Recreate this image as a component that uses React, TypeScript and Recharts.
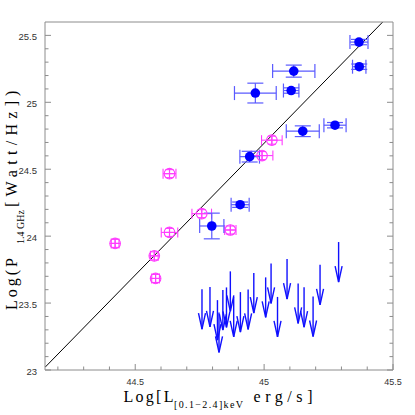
import { ScatterChart, Scatter, XAxis, YAxis, ErrorBar, ReferenceLine } from 'recharts'

// filled blue: detected sources
const detLx = [45.368, 45.369, 45.115, 44.966, 45.105, 45.15, 45.275, 44.944, 44.907, 44.797]
const detLr = [25.45, 25.266, 25.233, 25.069, 25.088, 24.784, 24.829, 24.594, 24.235, 24.076]
const detErrLx = [0.035, 0.026, 0.082, 0.081, 0.03, 0.064, 0.043, 0.038, 0.035, 0.047]
const detErrLr = [0.02, 0.02, 0.045, 0.074, 0.02, 0.04, 0.02, 0.04, 0.02, 0.096]

// open magenta
const magLx = [45.03, 44.992, 44.633, 44.758, 44.869, 44.633, 44.422, 44.574, 44.579]
const magLr = [24.717, 24.602, 24.467, 24.168, 24.046, 24.028, 23.946, 23.853, 23.684]
const magErrLx = [0.04, 0.042, 0.025, 0.038, 0.022, 0.032, 0.015, 0.015, 0.015]
const magErrLr = [0.03, 0.03, 0.03, 0.03, 0.03, 0.03, 0.03, 0.03, 0.03]

// upper limits (arrows)
const limLx = [44.759, 44.79, 44.819, 44.825, 44.84, 44.854, 44.869, 44.882, 44.908, 44.938,
  44.96, 45.006, 45.027, 45.052, 45.089, 45.132, 45.155, 45.19, 45.217, 45.289]
const limLr = [23.604, 23.621, 23.522, 23.43, 23.597, 23.617, 23.737, 23.546, 23.582, 23.602,
  23.724, 23.692, 23.796, 23.546, 23.829, 23.647, 23.619, 23.549, 23.786, 23.956]

// best fit line end points
const fitLx = [44.15, 45.46]
const fitLr = [23.02, 25.6]

const xTicks = [44.2, 44.3, 44.4, 44.5, 44.6, 44.7, 44.8, 44.9, 45, 45.1, 45.2, 45.3, 45.4, 45.5]
const yTicks = [23, 23.1, 23.2, 23.3, 23.4, 23.5, 23.6, 23.7, 23.8, 23.9, 24, 24.1, 24.2, 24.3, 24.4,
  24.5, 24.6, 24.7, 24.8, 24.9, 25, 25.1, 25.2, 25.3, 25.4, 25.5]

const detData = detLx.map((x, i) => ({ x, y: detLr[i], ex: detErrLx[i], ey: detErrLr[i] }))
const magData = magLx.map((x, i) => ({ x, y: magLr[i], ex: magErrLx[i], ey: magErrLr[i] }))
const limData = limLx.map((x, i) => ({ x, y: limLr[i] }))

const FRAME = '#8c8c8c'
const BLUE = '#0000ff'
const MAGENTA = '#ff3cff'

const isMajor = (v: number) => Math.abs(v * 2 - Math.round(v * 2)) < 1e-6
const tickLen = (v: number) => (isMajor(v) ? 6 : 3.5)

const BottomTick = ({ x, y, payload }: any) => (
  <g>
    <line x1={x} y1={y} x2={x} y2={y - tickLen(payload.value)} stroke={FRAME} />
    {isMajor(payload.value) && (
      <text x={x} y={y + 15} textAnchor="middle" fontSize={9} fontFamily="Liberation Sans" fill="#333">
        {String(payload.value)}
      </text>
    )}
  </g>
)

const TopTick = ({ x, y, payload }: any) => (
  <line x1={x} y1={y} x2={x} y2={y + tickLen(payload.value)} stroke={FRAME} />
)

const LeftTick = ({ x, y, payload }: any) => (
  <g>
    <line x1={x} y1={y} x2={x + tickLen(payload.value)} y2={y} stroke={FRAME} />
    {isMajor(payload.value) && (
      <text x={x - 8} y={y + 5} textAnchor="end" fontSize={9.5} fontFamily="Liberation Sans" fill="#333">
        {String(payload.value)}
      </text>
    )}
  </g>
)

const RightTick = ({ x, y, payload }: any) => (
  <line x1={x} y1={y} x2={x - tickLen(payload.value)} y2={y} stroke={FRAME} />
)

const FilledDot = ({ cx, cy }: any) => <circle cx={cx} cy={cy} r={4.8} fill={BLUE} />

const OpenDot = ({ cx, cy }: any) => (
  <g stroke={MAGENTA} strokeWidth={1.1} fill="none">
    <circle cx={cx} cy={cy} r={5.3} />
    <line x1={cx - 5.3} y1={cy} x2={cx + 5.3} y2={cy} />
    <line x1={cx} y1={cy - 5.3} x2={cx} y2={cy + 5.3} />
  </g>
)

const DownArrow = ({ cx, cy }: any) => (
  <g stroke="#1010ff" strokeWidth={1.4} fill="none">
    <line x1={cx} y1={cy} x2={cx} y2={cy + 40} />
    <polyline points={`${cx - 3.5},${cy + 24} ${cx},${cy + 40} ${cx + 3.5},${cy + 24}`} />
  </g>
)

export default function App() {
  return (
    <div style={{ position: 'absolute', left: 0, top: 0, width: 415, height: 415, background: '#fff' }}>
      <ScatterChart width={415} height={415} margin={{ top: 21, right: 21, bottom: 0, left: 0 }}>
        <XAxis
          type="number" dataKey="x" domain={[44.15, 45.5]} allowDataOverflow ticks={xTicks} interval={0}
          height={45} tickSize={0} tickMargin={0} tickLine={false} axisLine={{ stroke: FRAME }} tick={<BottomTick />}
        />
        <XAxis
          xAxisId="top" orientation="top" type="number" domain={[44.15, 45.5]} allowDataOverflow ticks={xTicks}
          interval={0} height={1} tickSize={0} tickMargin={0} tickLine={false} axisLine={{ stroke: FRAME }}
          tick={<TopTick />}
        />
        <YAxis
          type="number" dataKey="y" domain={[23, 25.6]} allowDataOverflow ticks={yTicks} interval={0}
          width={45} tickSize={0} tickMargin={0} tickLine={false} axisLine={{ stroke: FRAME }} tick={<LeftTick />}
        />
        <YAxis
          yAxisId="right" orientation="right" type="number" domain={[23, 25.6]} allowDataOverflow ticks={yTicks}
          interval={0} width={1} tickSize={0} tickMargin={0} tickLine={false} axisLine={{ stroke: FRAME }}
          tick={<RightTick />}
        />
        <ReferenceLine
          segment={[{ x: fitLx[0], y: fitLr[0] }, { x: fitLx[1], y: fitLr[1] }]}
          stroke="#000" strokeWidth={1} ifOverflow="hidden"
        />
        <Scatter data={limData} shape={<DownArrow />} isAnimationActive={false} />
        <Scatter data={magData} shape={<OpenDot />} isAnimationActive={false}>
          <ErrorBar dataKey="ex" direction="x" width={5} stroke={MAGENTA} strokeWidth={1.1} />
          <ErrorBar dataKey="ey" direction="y" width={4} stroke={MAGENTA} strokeWidth={1.1} />
        </Scatter>
        <Scatter data={detData} shape={<FilledDot />} isAnimationActive={false}>
          <ErrorBar dataKey="ex" direction="x" width={7} stroke="#5a5aff" strokeWidth={1.2} />
          <ErrorBar dataKey="ey" direction="y" width={8} stroke="#5a5aff" strokeWidth={1.2} />
        </Scatter>
      </ScatterChart>
      <svg width={415} height={415} style={{ position: 'absolute', left: 0, top: 0, pointerEvents: 'none' }}>
        <text fontFamily="Liberation Serif" fontSize={16} fill="#000">
          <tspan x={123.5} y={401.5} textLength={50} lengthAdjust="spacing">Log[L</tspan>
          <tspan x={174} y={408} fontSize={10} textLength={69} lengthAdjust="spacing">[0.1−2.4]keV</tspan>
          <tspan x={253.5} y={401.5} textLength={59} lengthAdjust="spacing">erg/s]</tspan>
        </text>
        <g transform="rotate(-90)">
          <text fontFamily="Liberation Serif" fontSize={16} fill="#000">
            <tspan x={-310} y={16.5} textLength={52} lengthAdjust="spacing">Log(P</tspan>
            <tspan x={-244} y={23.5} fontSize={10} textLength={34} lengthAdjust="spacing">1.4 GHz</tspan>
            <tspan x={-207} y={16.5} textLength={106} lengthAdjust="spacing">[Watt/Hz]</tspan>
            <tspan x={-96} y={16.5}>)</tspan>
          </text>
        </g>
      </svg>
    </div>
  )
}
